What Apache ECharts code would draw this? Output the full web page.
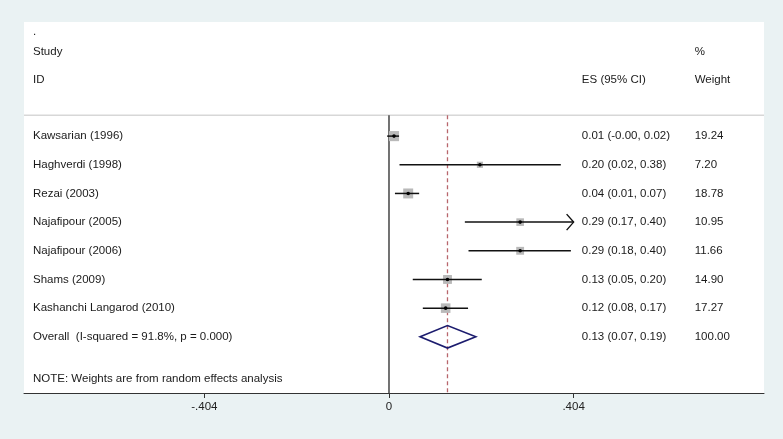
<!DOCTYPE html>
<html>
<head>
<meta charset="utf-8">
<script src="https://cdn.jsdelivr.net/npm/echarts@6/dist/echarts.min.js"></script>
<style>
  html, body { margin: 0; padding: 0; background: #eaf2f3; }
  #main { width: 783px; height: 439px; }
</style>
</head>
<body>
<div id="main"></div>
<script>
// study data
var studies = ['Kawsarian (1996)', 'Haghverdi (1998)', 'Rezai (2003)', 'Najafipour (2005)',
               'Najafipour (2006)', 'Shams (2009)', 'Kashanchi Langarod (2010)'];
var es = [0.011, 0.199, 0.042, 0.287, 0.287, 0.128, 0.124];
var lo = [-0.004, 0.023, 0.013, 0.166, 0.174, 0.052, 0.074];
var hi = [0.022, 0.376, 0.066, 0.410, 0.398, 0.203, 0.173];
var weights = [19.24, 7.20, 18.78, 10.95, 11.66, 14.90, 17.27];
var ciLabels = ['0.01 (-0.00, 0.02)', '0.20 (0.02, 0.38)', '0.04 (0.01, 0.07)', '0.29 (0.17, 0.40)',
                '0.29 (0.18, 0.40)', '0.13 (0.05, 0.20)', '0.12 (0.08, 0.17)'];
var weightLabels = ['19.24', '7.20', '18.78', '10.95', '11.66', '14.90', '17.27'];

var overallLabel = 'Overall  (I-squared = 91.8%, p = 0.000)';
var overallEs = 0.128, overallLo = 0.068, overallHi = 0.190;
var overallCi = '0.13 (0.07, 0.19)';
var overallWeight = '100.00';
var noteText = 'NOTE: Weights are from random effects analysis';

var xTicks = [-0.404, 0, 0.404];
var xTickLabels = ['-.404', '0', '.404'];

// layout in axis units
var xMin = -0.7987, xMax = 0.8206, yMin = -2.98, yMax = 9.96;
var clipHi = 0.404;       // CIs beyond this get an arrow
var colStudy = -0.779, colEs = 0.422, colW = 0.669;
var topLineY = 0.27;
var FONT = '11.5px "Liberation Sans", Arial, sans-serif';

var myChart = echarts.init(document.getElementById('main'));

// text rows
var texts = [];
texts.push({ x: colStudy, y: -2.62, t: '.' });
texts.push({ x: colStudy, y: -1.93, t: 'Study' });
texts.push({ x: colStudy, y: -0.95, t: 'ID' });
texts.push({ x: colEs, y: -0.95, t: 'ES (95% CI)' });
texts.push({ x: colW, y: -1.93, t: '%' });
texts.push({ x: colW, y: -0.95, t: 'Weight' });
studies.forEach(function (s, i) {
  texts.push({ x: colStudy, y: i + 1, t: s });
  texts.push({ x: colEs, y: i + 1, t: ciLabels[i] });
  texts.push({ x: colW, y: i + 1, t: weightLabels[i] });
});
texts.push({ x: colStudy, y: 8, t: overallLabel });
texts.push({ x: colEs, y: 8, t: overallCi });
texts.push({ x: colW, y: 8, t: overallWeight });
texts.push({ x: colStudy, y: 9.48, t: noteText });

var studyData = studies.map(function (s, i) {
  return [es[i], i + 1, lo[i], hi[i], weights[i]];
});

myChart.setOption({
  animation: false,
  backgroundColor: '#eaf2f3',
  grid: { left: 24, right: 19, top: 22, bottom: 46, show: true, backgroundColor: '#ffffff', borderWidth: 0 },
  xAxis: {
    type: 'value', min: xMin, max: xMax,
    axisLine: { show: true, onZero: false, lineStyle: { color: '#333', width: 1 } },
    axisTick: { show: true, customValues: xTicks, length: 5, lineStyle: { color: '#333' } },
    axisLabel: {
      customValues: xTicks, color: '#222', fontSize: 11.5, margin: 8,
      fontFamily: '"Liberation Sans", Arial, sans-serif',
      formatter: function (v) {
        for (var k = 0; k < xTicks.length; k++) {
          if (Math.abs(xTicks[k] - v) < 1e-6) return xTickLabels[k];
        }
        return '';
      }
    },
    splitLine: { show: false }
  },
  yAxis: { type: 'value', inverse: true, min: yMin, max: yMax, show: false },
  series: [
    {
      // reference lines: top rule, zero line, overall dashed line
      type: 'custom',
      data: [[0, 0]],
      renderItem: function (params, api) {
        var a = api.coord([xMin, topLineY]), b = api.coord([xMax, topLineY]);
        var z0 = api.coord([0, topLineY]), z1 = api.coord([0, yMax]);
        var d0 = api.coord([overallEs, topLineY]), d1 = api.coord([overallEs, yMax]);
        return {
          type: 'group',
          children: [
            { type: 'line', shape: { x1: a[0], y1: a[1], x2: b[0], y2: b[1] }, style: { stroke: '#c4c4c4', lineWidth: 1 } },
            { type: 'line', shape: { x1: d0[0], y1: d0[1], x2: d1[0], y2: d1[1] }, style: { stroke: '#b8666c', lineWidth: 1.3, lineDash: [4, 3] } },
            { type: 'line', shape: { x1: z0[0], y1: z0[1], x2: z1[0], y2: z1[1] }, style: { stroke: '#444', lineWidth: 1.5 } }
          ]
        };
      }
    },
    {
      // study estimates: CI line, weight box, point
      type: 'custom',
      data: studyData,
      encode: { x: 0, y: 1 },
      renderItem: function (params, api) {
        var e = api.value(0), r = api.value(1), l = api.value(2), h = api.value(3), w = api.value(4);
        var pe = api.coord([e, r]);
        var pl = api.coord([l, r]);
        var ph = api.coord([Math.min(h, clipHi), r]);
        var side = 2.3 * Math.sqrt(w);
        var kids = [
          { type: 'rect', shape: { x: pe[0] - side / 2, y: pe[1] - side / 2, width: side, height: side }, style: { fill: '#b9b9b9' } },
          { type: 'line', shape: { x1: pl[0], y1: pl[1], x2: ph[0], y2: ph[1] }, style: { stroke: '#111', lineWidth: 1.5 } },
          { type: 'circle', shape: { cx: pe[0], cy: pe[1], r: 1.8 }, style: { fill: '#000' } }
        ];
        if (h > clipHi) {
          kids.push({ type: 'polyline', shape: { points: [[ph[0] - 7, ph[1] - 8], [ph[0], ph[1]], [ph[0] - 7, ph[1] + 8]] }, style: { stroke: '#111', lineWidth: 1.4, fill: null } });
        }
        return { type: 'group', children: kids };
      }
    },
    {
      // overall diamond
      type: 'custom',
      data: [[overallEs, 8, overallLo, overallHi]],
      encode: { x: 0, y: 1 },
      renderItem: function (params, api) {
        var c = api.coord([api.value(0), api.value(1)]);
        var l = api.coord([api.value(2), api.value(1)]);
        var h = api.coord([api.value(3), api.value(1)]);
        var hh = 11.3;
        return {
          type: 'polygon',
          shape: { points: [[l[0], c[1]], [c[0], c[1] - hh], [h[0], c[1]], [c[0], c[1] + hh]] },
          style: { stroke: '#1c1c6e', lineWidth: 1.6, fill: null }
        };
      }
    },
    {
      // text columns
      type: 'custom',
      data: texts.map(function (t) { return [t.x, t.y]; }),
      encode: { x: 0, y: 1 },
      renderItem: function (params, api) {
        var p = api.coord([api.value(0), api.value(1)]);
        return {
          type: 'text',
          x: p[0], y: p[1],
          style: { text: texts[params.dataIndex].t, fill: '#1a1a1a', font: FONT, textAlign: 'left', textVerticalAlign: 'middle' }
        };
      }
    }
  ]
});
</script>
</body>
</html>
